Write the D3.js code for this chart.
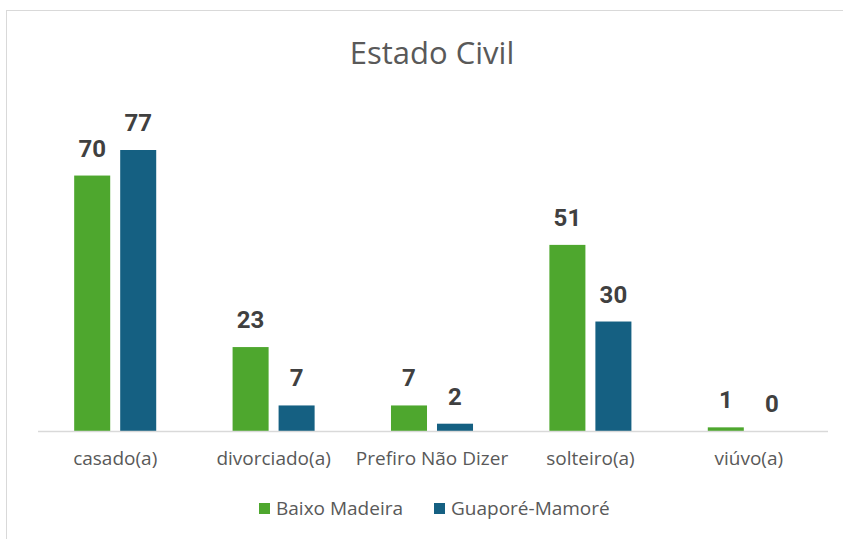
<!DOCTYPE html>
<html>
<head>
<meta charset="utf-8">
<script src="https://cdn.jsdelivr.net/npm/d3@7"></script>
<style>
  body { margin: 0; background: #fff; }
  svg { display: block; font-family: "Open Sans", "Roboto", sans-serif; }
</style>
</head>
<body>
<div id="chart"></div>
<script>
const categories = ["casado(a)", "divorciado(a)", "Prefiro Não Dizer", "solteiro(a)", "viúvo(a)"];
const seriesNames = ["Baixo Madeira", "Guaporé-Mamoré"];
const baixoMadeira = [70, 23, 7, 51, 1];
const guapore = [77, 7, 2, 30, 0];
const colors = ["#4ea72e", "#156082"];

const width = 843;
const height = 539;
const margin = { top: 40, right: 15, bottom: 108, left: 36 };

const svg = d3.select("#chart")
    .append("svg")
    .attr("width", width)
    .attr("height", height);

// chart frame
svg.append("rect")
    .attr("x", 6.5)
    .attr("y", 10.5)
    .attr("width", 860)
    .attr("height", 560)
    .attr("fill", "none")
    .attr("stroke", "#d9d9d9");

svg.append("text")
    .attr("x", 432)
    .attr("y", 64)
    .attr("text-anchor", "middle")
    .style("font-size", "31px")
    .style("font-weight", 400)
    .attr("fill", "#595959")
    .text("Estado Civil");

const data = categories.map((c, i) => ({
    category: c,
    values: [baixoMadeira[i], guapore[i]]
}));

const plotBottom = height - margin.bottom; // 431
const xScale = d3.scaleBand()
    .domain(categories)
    .range([margin.left, width - margin.right])
    .paddingInner(0)
    .paddingOuter(0);

const inner = d3.scaleBand()
    .domain([0, 1])
    .range([0, xScale.bandwidth()])
    .paddingInner(0.217)
    .paddingOuter(0.83);

const yScale = d3.scaleLinear()
    .domain([0, 77])
    .range([plotBottom, 150]);

const groups = svg.selectAll("g.cat")
    .data(data)
    .enter()
    .append("g")
    .attr("class", "cat")
    .attr("transform", d => `translate(${xScale(d.category)},0)`);

groups.selectAll("rect")
    .data(d => d.values.map((v, j) => ({ v, j })))
    .enter()
    .append("rect")
    .attr("x", d => inner(d.j))
    .attr("y", d => yScale(d.v))
    .attr("width", inner.bandwidth())
    .attr("height", d => plotBottom - yScale(d.v))
    .attr("fill", d => colors[d.j]);

groups.selectAll("text.val")
    .data(d => d.values.map((v, j) => ({ v, j })))
    .enter()
    .append("text")
    .attr("class", "val")
    .attr("x", d => inner(d.j) + inner.bandwidth() / 2)
    .attr("y", d => yScale(d.v) - 19)
    .attr("text-anchor", "middle")
    .style("font-size", "24px")
    .style("font-weight", "bold")
    .style("font-family", "Roboto, sans-serif")
    .attr("fill", "#404040")
    .text(d => d.v);

// category axis
const xAxis = svg.append("g")
    .attr("transform", `translate(0,${plotBottom})`)
    .call(d3.axisBottom(xScale).tickSize(0).tickPadding(21));

xAxis.select(".domain")
    .attr("stroke", "#d9d9d9")
    .attr("stroke-width", 1.5)
    .attr("d", `M${margin.left + 2},0.5H${width - margin.right}`);

xAxis.selectAll("text")
    .style("font-size", "19px")
    .style("font-family", "'Open Sans', sans-serif")
    .attr("fill", "#595959");

// legend
const legendX = [259, 434];
const legend = svg.selectAll("g.leg")
    .data(seriesNames)
    .enter()
    .append("g")
    .attr("class", "leg")
    .attr("transform", (d, i) => `translate(${legendX[i]},503)`);

legend.append("rect")
    .attr("width", 11)
    .attr("height", 11)
    .attr("fill", (d, i) => colors[i]);

legend.append("text")
    .attr("x", 17)
    .attr("y", 12)
    .style("font-size", "19px")
    .attr("fill", "#595959")
    .text(d => d);
</script>
</body>
</html>
